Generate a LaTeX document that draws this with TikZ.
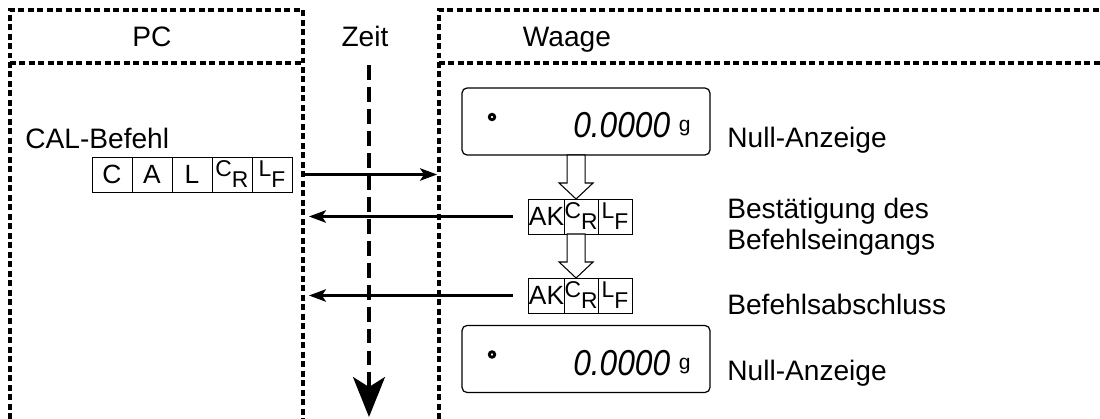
\documentclass[tikz,border=0pt]{standalone}
\usepackage{fontspec}
\setmainfont{Liberation Sans}
\usetikzlibrary{positioning,arrows.meta}

\newcommand{\ctlCR}{{\fontsize{13}{13}\selectfont\raisebox{0.11cm}{C}\raisebox{-0.11cm}{R}}}
\newcommand{\ctlLF}{{\fontsize{13}{13}\selectfont\raisebox{0.11cm}{L}\raisebox{-0.11cm}{F}}}

\tikzset{
  frame/.style={line width=1.9pt, dash pattern=on 3.4pt off 2pt},
  timeline/.style={line width=1.8pt, dash pattern=on 8.5pt off 4pt,
    -{Stealth[length=0.8cm, width=0.64cm, inset=0.2cm]}},
  msg/.style={line width=1.3pt, -{Stealth[length=0.34cm, width=0.25cm, inset=0.08cm]}},
  lbl/.style={font=\fontsize{16}{17.6}\selectfont, inner sep=0pt},
  cell/.style={draw, line width=0.5pt, minimum width=0.8cm, minimum height=0.7cm,
    inner sep=0pt, outer sep=0pt, font=\fontsize{15}{15}\selectfont},
  akcell/.style={cell, minimum width=0.68cm},
  display/.style={draw, line width=0.7pt, rounded corners=0.1cm,
    minimum width=4.96cm, minimum height=1.34cm},
  hollow/.style={draw, line width=0.6pt, fill=white},
}

\begin{document}
\begin{tikzpicture}[x=0.02cm, y=-0.02cm]
  \useasboundingbox (0,0) rectangle (1100,419);

  % Frames
  \draw[frame] (10,419) -- (10,10) -- (303,10) -- (303,419);
  \draw[frame] (10,63) -- (303,63);
  \draw[frame] (439,419) -- (439,10) -- (1100,10);
  \draw[frame] (439,63) -- (1100,63);

  % Nodes
  \node[lbl, anchor=base] (pc) at (152,47) {PC};
  \node[lbl, anchor=base] (zeit) at (365,47) {Zeit};
  \node[lbl, anchor=base] (waage) at (567,47) {Waage};

  \node[lbl, anchor=base west] (calcmd) at (25,148) {CAL-Befehl};
  \node[cell] (cal1) at (112,174.5) {C};
  \node[cell, right=0pt of cal1] (cal2) {A};
  \node[cell, right=0pt of cal2] (cal3) {L};
  \node[cell, right=0pt of cal3] (cal4) {\ctlCR};
  \node[cell, right=0pt of cal4] (cal5) {\ctlLF};

  \node[display] (disp1) at (586,121.5) {};
  \node[display] (disp2) at (586,359) {};
  \foreach \d in {1,2} {
    \draw[line width=1.6pt] ([xshift=-1.88cm, yshift=0.09cm]disp\d.center) circle (0.055cm);
    \node[anchor=base east, inner sep=0pt, font=\fontsize{20.5}{20.5}\selectfont\itshape]
      (num\d) at ([xshift=-0.8cm, yshift=-0.33cm]disp\d.east) {\scalebox{0.88}[1]{0.0000}};
    \node[anchor=base west, inner sep=0pt, font=\fontsize{12}{12}\selectfont]
      (unit\d) at ([xshift=0.16cm, yshift=0.12cm]num\d.base east) {g};
  }

  \node[akcell] (ak1a) at (546.5,216.5) {AK};
  \node[akcell, right=0pt of ak1a] (ak1b) {\ctlCR};
  \node[akcell, right=0pt of ak1b] (ak1c) {\ctlLF};
  \node[akcell] (ak2a) at (546.5,295.5) {AK};
  \node[akcell, right=0pt of ak2a] (ak2b) {\ctlCR};
  \node[akcell, right=0pt of ak2b] (ak2c) {\ctlLF};

  \node[lbl, anchor=base west] (null1) at (727,147) {Null-Anzeige};
  \node[lbl, anchor=base west, align=left] (ack) at (727,249) {Bestätigung des\\Befehlseingangs};
  \node[lbl, anchor=base west] (done) at (727,314) {Befehlsabschluss};
  \node[lbl, anchor=base west] (null2) at (727,380) {Null-Anzeige};

  \coordinate (pcR) at (309,175);
  \coordinate (wgL) at (437,175);
  \coordinate (tStart) at (369,65);
  \coordinate (tEnd) at (369,417);

  % Edges
  \draw[timeline] (tStart) -- (tEnd);
  \draw[msg, shorten <=0.26cm] (cal5.east) -- (cal5.east -| wgL);
  \draw[msg, shorten <=0.32cm] (ak1a.west) -- (ak1a.west -| pcR);
  \draw[msg, shorten <=0.32cm] (ak2a.west) -- (ak2a.west -| pcR);
  \foreach \t in {ak1b, ak2b}
    \draw[hollow] ([xshift=-0.1cm]\t.north) -- ++(-17,-16) -- ++(8,0) -- ++(0,-28)
      -- ++(18,0) -- ++(0,28) -- ++(8,0) -- cycle;
\end{tikzpicture}
\end{document}
